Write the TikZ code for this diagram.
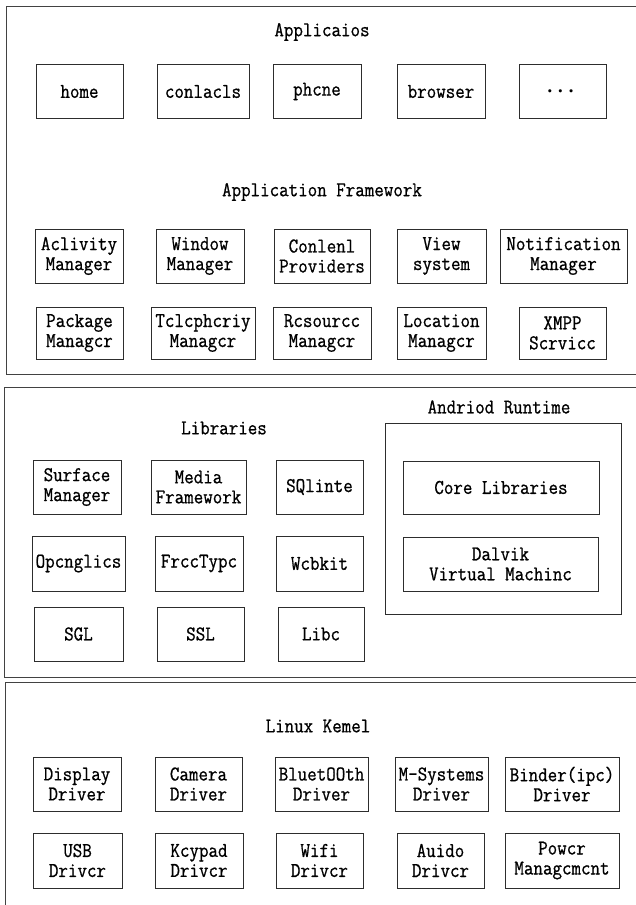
\documentclass[tikz,border=0pt]{standalone}
\usepackage{fontspec}
\setmonofont{Latin Modern Mono}[FakeStretch=0.88, FakeBold=0.8]
\usepackage{amsmath,amssymb}
\usepackage{xcolor}
\definecolor{rahmen}{RGB}{45,45,45}
\usepackage{tikz}

\begin{document}
\begin{tikzpicture}[x=1pt,y=-1pt,
  every node/.style={font=\ttfamily\fontsize{21}{20}\selectfont, align=center},
  modul/.style={draw=rahmen, line width=0.9pt, inner sep=0pt, minimum height=54pt},
  layer/.style={draw=rahmen!90, line width=1pt}]
\useasboundingbox (0,0) rectangle (636,905);
\clip (0,0) rectangle (636,905);

% --- Applications + Framework
\draw[layer] (6,6) rectangle (650,374);
\node (Apps) at (322,32) {Applicaios};

\node[modul, minimum width=87pt] (HM) at (79.5,91.5) {home};
\node[modul, minimum width=92pt] (CO) at (203,91.5) {conlacls};
\node[modul, minimum width=88pt] (PH) at (317,91.5) {phcne};
\node[modul, minimum width=88pt] (BR) at (441,91.5) {browser};
\node[modul, minimum width=87pt] (MO) at (562.5,91.5) {$\boldsymbol{\cdots}$};

\node (AF) at (322,192) {Application Framework};

\node[modul, minimum width=88pt] (AM) at (79,256) {Aclivity\\Manager};
\node[modul, minimum width=88pt] (WM) at (200,256) {Window\\Manager};
\node[modul, minimum width=96pt] (CP) at (322,256) {Conlenl\\Providers};
\node[modul, minimum width=89pt] (VS) at (441.5,256) {View\\system};
\node[modul, minimum width=127pt] (NM) at (563.5,256) {Notification\\Manager};

\node[modul, minimum width=87pt, minimum height=52pt] (PM) at (79.5,333) {Package\\Managcr};
\node[modul, minimum width=104pt, minimum height=52pt] (TM) at (203,333) {Tclcphcriy\\Managcr};
\node[modul, minimum width=98pt, minimum height=52pt] (RM) at (322,333) {Rcsourcc\\Managcr};
\node[modul, minimum width=89pt, minimum height=52pt] (LM) at (441.5,333) {Location\\Managcr};
\node[modul, minimum width=87pt, minimum height=52pt] (XS) at (562.5,333) {XMPP\\Scrvicc};

% --- Libraries + Runtime
\draw[layer] (4,387) rectangle (650,677);
\node (Libs) at (224,428) {Libraries};
\node (AR) at (499,407) {Andriod Runtime};

\node[modul, minimum width=88pt] (SM) at (77,487) {Surface\\Manager};
\node[modul, minimum width=95pt] (MF) at (198.5,487) {Media\\Framework};
\node[modul, minimum width=87pt] (SQ) at (319.5,487) {SQlinte};

\node[modul, minimum width=93pt, minimum height=55pt] (OG) at (78.5,563.5) {Opcnglics};
\node[modul, minimum width=88pt, minimum height=55pt] (FT) at (199,563.5) {FrccTypc};
\node[modul, minimum width=87pt, minimum height=55pt] (WK) at (319.5,563.5) {Wcbkit};

\node[modul, minimum width=89pt] (SG) at (78.5,634) {SGL};
\node[modul, minimum width=87pt] (SS) at (200.5,634) {SSL};
\node[modul, minimum width=86pt] (LC) at (321,634) {Libc};

\draw[modul] (385,423) rectangle (621,614);
\node[modul, minimum width=196pt, minimum height=53pt] (CL) at (501,487.5) {Core Libraries};
\node[modul, minimum width=195pt] (DV) at (500.5,564) {Dalvik\\Virtual Machinc};

% --- Kernel
\draw[layer] (5,682) rectangle (650,920);
\node (LK) at (318,726) {Linux Kemel};

\node[modul, minimum width=88pt] (DD) at (77,784) {Display\\Driver};
\node[modul, minimum width=87pt] (CD) at (198.5,784) {Camera\\Driver};
\node[modul, minimum width=93pt] (BD) at (321.5,784) {BluetOOth\\Driver};
\node[modul, minimum width=93pt] (MD) at (441.5,784) {M-Systems\\Driver};
\node[modul, minimum width=114pt] (BI) at (562,784) {Binder(ipc)\\Driver};

\node[modul, minimum width=89pt, minimum height=55pt] (UD) at (77.5,860.5) {USB\\Drivcr};
\node[modul, minimum width=88pt, minimum height=55pt] (KD) at (199,860.5) {Kcypad\\Drivcr};
\node[modul, minimum width=87pt, minimum height=55pt] (WD) at (319.5,860.5) {Wifi\\Drivcr};
\node[modul, minimum width=87pt, minimum height=55pt] (AD) at (440.5,860.5) {Auido\\Drivcr};
\node[modul, minimum width=114pt, minimum height=55pt] (PW) at (562,860.5) {Powcr\\Managcmcnt};

\end{tikzpicture}
\end{document}
